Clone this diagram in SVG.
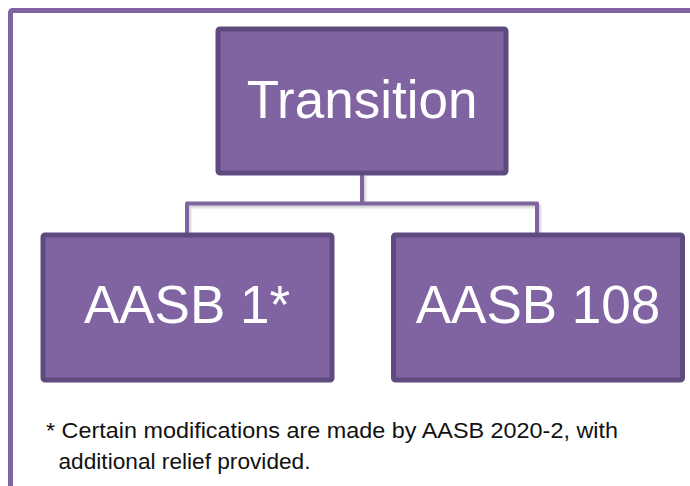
<svg xmlns="http://www.w3.org/2000/svg" width="690" height="486" viewBox="0 0 690 486">
  <style>
    .box { fill: #8064a2; stroke: #5e4a7e; stroke-width: 5; }
    .label { fill: #ffffff; font-family: "Liberation Sans", Arial, sans-serif; font-size: 53px; text-anchor: middle; }
    .link { fill: none; stroke: #8064a2; stroke-width: 4; stroke-linejoin: round; }
    .link-shadow { fill: none; stroke: #b8b8b8; stroke-width: 4; stroke-linejoin: round; opacity: 0.6; }
    .note { fill: #111111; font-family: "Liberation Sans", Arial, sans-serif; font-size: 22.5px; }
  </style>
  <defs>
    <filter id="soft" x="-10%" y="-10%" width="120%" height="120%">
      <feGaussianBlur stdDeviation="1.2"/>
    </filter>
  </defs>

  <rect x="0" y="0" width="690" height="486" fill="#ffffff"/>

  <!-- outer frame, runs past the right and bottom edges -->
  <rect x="10.5" y="10.5" width="700" height="500" rx="2" fill="none" stroke="#8064a2" stroke-width="5"/>

  <g id="connectors">
    <path class="link-shadow" filter="url(#soft)" d="M364 176 V206 M189 233 V206 H539 V233"/>
    <path class="link" d="M362 174 V203.5 M187 233 V203.5 H537 V233"/>
  </g>

  <g id="node-transition">
    <rect class="box" x="218" y="29" width="288" height="144" rx="2"/>
    <text class="label" x="362" y="118">Transition</text>
  </g>

  <g id="node-aasb1">
    <rect class="box" x="43" y="235" width="289" height="145" rx="2"/>
    <text class="label" x="187" y="323">AASB 1*</text>
  </g>

  <g id="node-aasb108">
    <rect class="box" x="393.5" y="235" width="289" height="145" rx="2"/>
    <text class="label" x="538" y="323">AASB 108</text>
  </g>

  <g id="footnote">
    <text class="note" x="46" y="437.5" textLength="572" lengthAdjust="spacingAndGlyphs">* Certain modifications are made by AASB 2020-2, with</text>
    <text class="note" x="58.5" y="468.5" textLength="252" lengthAdjust="spacingAndGlyphs">additional relief provided.</text>
  </g>
</svg>
